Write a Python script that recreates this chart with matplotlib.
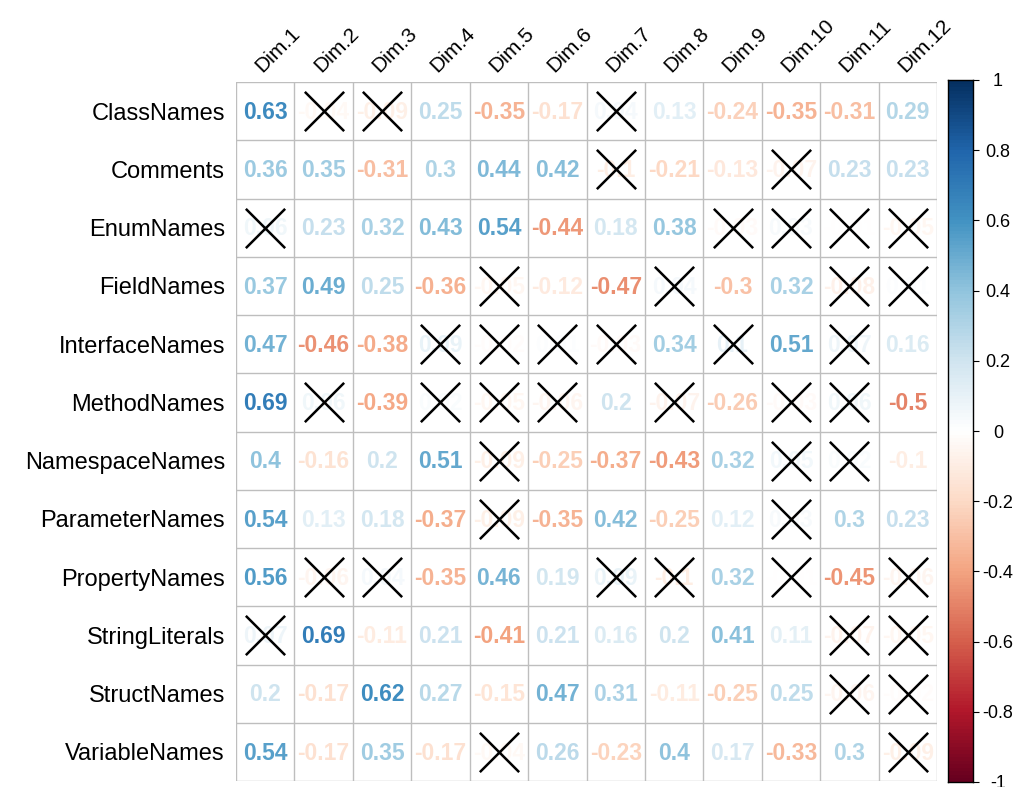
import numpy as np
import matplotlib.pyplot as plt
from matplotlib.colors import LinearSegmentedColormap, Normalize

plt.rcParams['font.family'] = ['Liberation Sans', 'DejaVu Sans']

rows = ['ClassNames', 'Comments', 'EnumNames', 'FieldNames', 'InterfaceNames',
        'MethodNames', 'NamespaceNames', 'ParameterNames', 'PropertyNames',
        'StringLiterals', 'StructNames', 'VariableNames']
cols = ['Dim.%d' % k for k in range(1, 13)]

# correlation values (row by row)
corr = np.array([
    [0.63, -0.04, -0.09, 0.25, -0.35, -0.17, 0.04, 0.13, -0.24, -0.35, -0.31, 0.29],
    [0.36, 0.35, -0.31, 0.30, 0.44, 0.42, -0.10, -0.21, -0.13, -0.07, 0.23, 0.23],
    [0.06, 0.23, 0.32, 0.43, 0.54, -0.44, 0.18, 0.38, -0.03, 0.03, -0.01, -0.05],
    [0.37, 0.49, 0.25, -0.36, -0.05, -0.12, -0.47, 0.04, -0.30, 0.32, -0.08, 0.01],
    [0.47, -0.46, -0.38, 0.09, -0.02, 0.01, -0.03, 0.34, 0.10, 0.51, 0.07, 0.16],
    [0.69, 0.06, -0.39, 0.02, -0.05, -0.06, 0.20, -0.07, -0.26, -0.03, 0.06, -0.50],
    [0.40, -0.16, 0.20, 0.51, -0.09, -0.25, -0.37, -0.43, 0.32, 0.05, 0.02, -0.10],
    [0.54, 0.13, 0.18, -0.37, -0.09, -0.35, 0.42, -0.25, 0.12, 0.03, 0.30, 0.23],
    [0.56, -0.06, 0.04, -0.35, 0.46, 0.19, 0.09, -0.10, 0.32, -0.01, -0.45, -0.06],
    [0.07, 0.69, -0.11, 0.21, -0.41, 0.21, 0.16, 0.20, 0.41, 0.11, -0.07, -0.05],
    [0.20, -0.17, 0.62, 0.27, -0.15, 0.47, 0.31, -0.11, -0.25, 0.25, -0.06, -0.02],
    [0.54, -0.17, 0.35, -0.17, -0.04, 0.26, -0.23, 0.40, 0.17, -0.33, 0.30, -0.09],
])

# non-significant cells (crossed out)
insig = np.array([
    [0, 1, 1, 0, 0, 0, 1, 0, 0, 0, 0, 0],
    [0, 0, 0, 0, 0, 0, 1, 0, 0, 1, 0, 0],
    [1, 0, 0, 0, 0, 0, 0, 0, 1, 1, 1, 1],
    [0, 0, 0, 0, 1, 0, 0, 1, 0, 0, 1, 1],
    [0, 0, 0, 1, 1, 1, 1, 0, 1, 0, 1, 0],
    [0, 1, 0, 1, 1, 1, 0, 1, 0, 1, 1, 0],
    [0, 0, 0, 0, 1, 0, 0, 0, 0, 1, 1, 0],
    [0, 0, 0, 0, 1, 0, 0, 0, 0, 1, 0, 0],
    [0, 1, 1, 0, 0, 0, 1, 1, 0, 1, 0, 1],
    [1, 0, 0, 0, 0, 0, 0, 0, 0, 0, 1, 1],
    [0, 0, 0, 0, 0, 0, 0, 0, 0, 0, 1, 1],
    [0, 0, 0, 0, 1, 0, 0, 0, 0, 0, 0, 1],
], dtype=bool)

cmap = LinearSegmentedColormap.from_list('rdbu', [
    '#67001F', '#B2182B', '#D6604D', '#F4A582', '#FDDBC7', '#FFFFFF',
    '#D1E5F0', '#92C5DE', '#4393C3', '#2166AC', '#053061'], N=200)
norm = Normalize(-1, 1)

W, H = 1023, 787
fig = plt.figure(figsize=(W / 100, H / 100), dpi=100)
ax = fig.add_axes([236 / W, 1 - 781 / H, 701 / W, 699 / H])
n_r, n_c = corr.shape
ax.set_xlim(0, n_c)
ax.set_ylim(n_r, 0)

# grid
for k in range(n_c + 1):
    ax.axvline(k, color='#BEBEBE', lw=1, zorder=1)
for k in range(n_r + 1):
    ax.axhline(k, color='#BEBEBE', lw=1, zorder=1)

for i in range(n_r):
    for j in range(n_c):
        v = corr[i, j]
        ax.text(j + 0.5, i + 0.52, ('%.2f' % v).rstrip('0').rstrip('.'),
                ha='center', va='center', fontsize=16.5, fontweight='bold',
                color=cmap(norm(v)), zorder=2)

yy, xx = np.where(insig)
ax.scatter(xx + 0.5, yy + 0.5, marker='x', s=800, c='black',
           linewidths=1.8, zorder=3)

for s in ax.spines.values():
    s.set_visible(False)
ax.set_xticks([])
ax.set_yticks(np.arange(n_r) + 0.5)
ax.set_yticklabels(rows, fontsize=17)
ax.tick_params(axis='y', length=0, pad=8)

for j, c in enumerate(cols):
    ax.text(j + 0.5, -0.1, c, rotation=45, rotation_mode='anchor',
            ha='left', va='bottom', fontsize=15)

# colorbar
cax = fig.add_axes([948 / W, 1 - 782 / H, 25 / W, 702 / H])
grad = np.linspace(-1, 1, 200).reshape(-1, 1)
cax.imshow(grad, cmap=cmap, norm=norm, aspect='auto', origin='lower',
           extent=(0, 1, -1, 1))
ticks = np.round(np.arange(-1, 1.01, 0.2), 1)
cax.set_yticks(ticks)
cax.set_yticklabels([('%g' % t) if t != 0 else '0' for t in ticks], fontsize=13)
cax.yaxis.tick_right()
cax.tick_params(axis='y', length=4, pad=14)
for lab in cax.get_yticklabels():
    lab.set_horizontalalignment('center')
cax.set_xticks([])
for s in cax.spines.values():
    s.set_linewidth(1)

fig.savefig('out.png', dpi=100)
